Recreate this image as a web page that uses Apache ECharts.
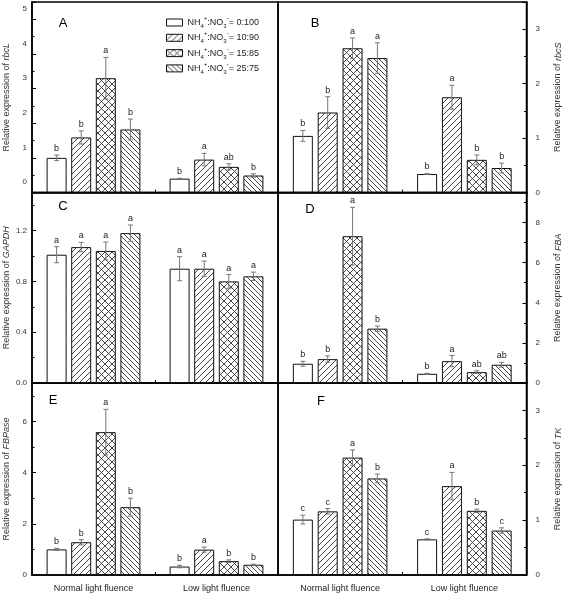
<!DOCTYPE html>
<html><head><meta charset="utf-8">
<script src="https://cdn.jsdelivr.net/npm/echarts@6/dist/echarts.min.js"></script>
<style>html,body{margin:0;padding:0;background:#fff}#c{width:567px;height:595px}</style>
</head><body><div id="c"></div>
<script>
// ---------- DATA ----------
const treatments = ['0:100', '10:90', '15:85', '25:75'];
const groups = ['Normal light fluence', 'Low light fluence'];
const slots = ['', 'N1', 'N2', 'N3', 'N4', '', 'L1', 'L2', 'L3', 'L4', ''];
// order: Normal 0:100,10:90,15:85,25:75 | Low 0:100,10:90,15:85,25:75
const rbcL = [1.00, 1.59, 3.30, 1.82, 0.40, 0.95, 0.74, 0.49];
const rbcLErr = [0.08, 0.19, 0.60, 0.30, 0.01, 0.18, 0.09, 0.05];
const rbcLSig = ['b', 'b', 'a', 'b', 'b', 'a', 'ab', 'b'];
const rbcS = [1.04, 1.47, 2.65, 2.47, 0.34, 1.75, 0.60, 0.45];
const rbcSErr = [0.10, 0.29, 0.19, 0.28, 0.01, 0.22, 0.09, 0.09];
const rbcSSig = ['b', 'b', 'a', 'a', 'b', 'a', 'b', 'b'];
const GAPDH = [1.01, 1.07, 1.04, 1.18, 0.90, 0.90, 0.80, 0.84];
const GAPDHErr = [0.063, 0.037, 0.07, 0.064, 0.095, 0.06, 0.054, 0.033];
const GAPDHSig = ['a', 'a', 'a', 'a', 'a', 'a', 'a', 'a'];
const FBA = [0.96, 1.19, 7.32, 2.71, 0.46, 1.09, 0.54, 0.91];
const FBAErr = [0.12, 0.16, 1.44, 0.13, 0.02, 0.28, 0.07, 0.12];
const FBASig = ['b', 'b', 'a', 'b', 'b', 'a', 'ab', 'ab'];
const FBPase = [1.00, 1.28, 5.58, 2.65, 0.33, 0.99, 0.54, 0.40];
const FBPaseErr = [0.04, 0.10, 0.89, 0.35, 0.05, 0.10, 0.05, 0.02];
const FBPaseSig = ['b', 'b', 'a', 'b', 'b', 'a', 'b', 'b'];
const TK = [1.01, 1.16, 2.14, 1.76, 0.65, 1.62, 1.17, 0.81];
const TKErr = [0.08, 0.05, 0.14, 0.08, 0.01, 0.25, 0.03, 0.05];
const TKSig = ['c', 'c', 'a', 'b', 'c', 'a', 'b', 'c'];

// ---------- STYLE / LAYOUT ----------
const FONT = 'Liberation Sans, Arial, sans-serif';
const panels = [
  { letter: 'A', gene: 'rbcL', v: rbcL, e: rbcLErr, s: rbcLSig, max: 5.5, interval: 1, dec: 0, left: 32, top: 2, width: 246, height: 190.5, side: 'left', lx: 63, ly: 23, shiftLabels: true },
  { letter: 'B', gene: 'rbcS', v: rbcS, e: rbcSErr, s: rbcSSig, max: 3.5, interval: 1, dec: 0, left: 278, top: 2, width: 248.5, height: 190.5, side: 'right', lx: 315, ly: 23 },
  { letter: 'C', gene: 'GAPDH', v: GAPDH, e: GAPDHErr, s: GAPDHSig, max: 1.5, interval: 0.4, dec: 1, left: 32, top: 192.5, width: 246, height: 190.5, side: 'left', lx: 63, ly: 206 },
  { letter: 'D', gene: 'FBA', v: FBA, e: FBAErr, s: FBASig, max: 9.5, interval: 2, dec: 0, left: 278, top: 192.5, width: 248.5, height: 190.5, side: 'right', lx: 310, ly: 209.5 },
  { letter: 'E', gene: 'FBPase', v: FBPase, e: FBPaseErr, s: FBPaseSig, max: 7.5, interval: 2, dec: 0, left: 32, top: 383, width: 246, height: 192, side: 'left', lx: 53, ly: 400 },
  { letter: 'F', gene: 'TK', v: TK, e: TKErr, s: TKSig, max: 3.5, interval: 1, dec: 0, left: 278, top: 383, width: 248.5, height: 192, side: 'right', lx: 321, ly: 401.5 }
];

function hatch(type) {
  const s = type === 'x' ? 7 : (type === '/' ? 6 : 5);
  const c = document.createElement('canvas');
  c.width = s; c.height = s;
  const g = c.getContext('2d');
  g.fillStyle = '#fff'; g.fillRect(0, 0, s, s);
  g.strokeStyle = '#333'; g.lineWidth = 0.9;
  function fwd() {
    g.beginPath();
    g.moveTo(-1, s + 1); g.lineTo(s + 1, -1);
    g.moveTo(-1, 1); g.lineTo(1, -1);
    g.moveTo(s - 1, s + 1); g.lineTo(s + 1, s - 1);
    g.stroke();
  }
  function back() {
    g.beginPath();
    g.moveTo(-1, -1); g.lineTo(s + 1, s + 1);
    g.moveTo(s - 1, -1); g.lineTo(s + 1, 1);
    g.moveTo(-1, s - 1); g.lineTo(1, s + 1);
    g.stroke();
  }
  if (type === '/' || type === 'x') fwd();
  if (type === '\\' || type === 'x') back();
  return c;
}
const fills = [
  '#ffffff',
  { image: hatch('/'), repeat: 'repeat' },
  { image: hatch('x'), repeat: 'repeat' },
  { image: hatch('\\'), repeat: 'repeat' }
];

const grid = [], xAxis = [], yAxis = [], series = [], graphic = [];
panels.forEach((p, pi) => {
  grid.push({ left: p.left, top: p.top, width: p.width, height: p.height, show: true,
    borderColor: '#000', borderWidth: 1.5, backgroundColor: 'transparent', containLabel: false, outerBoundsMode: 'none' });
  xAxis.push({ type: 'category', gridIndex: pi, data: slots, boundaryGap: false,
    axisLine: { show: true, lineStyle: { color: '#000', width: 1.5 } },
    axisTick: { show: true, inside: true, length: 3, interval: 0, lineStyle: { color: '#000', width: 1 } },
    axisLabel: { show: false }, splitLine: { show: false } });
  const lbl = { show: true, fontSize: 8, color: '#333', fontFamily: FONT,
    margin: p.side === 'left' ? 5 : 9, showMaxLabel: false,
    formatter: v => Number(v).toFixed(p.dec) };
  if (p.shiftLabels) {
    lbl.formatter = v => '{u|' + Number(v).toFixed(p.dec) + '}';
    lbl.rich = { u: { fontSize: 8, color: '#333', fontFamily: FONT, padding: [0, 0, 21, 0] } };
  }
  yAxis.push({ type: 'value', gridIndex: pi, position: p.side, min: 0, max: p.max, interval: p.interval,
    axisLine: { show: true, lineStyle: { color: '#000', width: 1.5 } },
    axisTick: { show: true, inside: true, length: 4, lineStyle: { color: '#000', width: 1 } },
    minorTick: { show: true, splitNumber: 2, length: 2.5, lineStyle: { color: '#000', width: 1 } },
    splitLine: { show: false }, minorSplitLine: { show: false },
    axisLabel: lbl,
    name: '{n|Relative expression of }{i|' + p.gene + '}',
    nameLocation: 'middle', nameRotate: 90, nameGap: p.side === 'left' ? 21 : 27,
    nameTextStyle: { fontSize: 9, color: '#333', fontFamily: FONT,
      rich: { n: { fontSize: 9, color: '#333', fontFamily: FONT }, i: { fontSize: 9, color: '#333', fontStyle: 'italic', fontFamily: FONT } } } });
  treatments.forEach((t, ti) => {
    const d = slots.map(() => null);
    d[ti + 1] = p.v[ti];
    d[ti + 6] = p.v[ti + 4];
    series.push({ type: 'bar', name: t, xAxisIndex: pi, yAxisIndex: pi, stack: 'p' + pi,
      barWidth: 20, data: d, silent: true,
      itemStyle: { color: fills[ti], borderColor: '#111', borderWidth: 1 } });
  });
  const ed = p.v.map((val, i) => [i < 4 ? i + 1 : i + 2, val, p.e[i]]);
  series.push({ type: 'custom', xAxisIndex: pi, yAxisIndex: pi, data: ed, z: 5, silent: true,
    renderItem: (params, api) => {
      const x = api.value(0), val = api.value(1), err = api.value(2);
      const t = api.coord([x, val + err]);
      const b = api.coord([x, Math.max(0, val - err)]);
      const ls = { stroke: '#777', lineWidth: 1 };
      return { type: 'group', children: [
        { type: 'line', shape: { x1: t[0], y1: t[1], x2: b[0], y2: b[1] }, style: ls },
        { type: 'line', shape: { x1: t[0] - 2.5, y1: t[1], x2: t[0] + 2.5, y2: t[1] }, style: ls },
        { type: 'line', shape: { x1: b[0] - 2.5, y1: b[1], x2: b[0] + 2.5, y2: b[1] }, style: ls },
        { type: 'text', x: t[0], y: t[1] - 2, style: { text: p.s[params.dataIndex], fontSize: 9, fill: '#222',
          fontFamily: FONT, align: 'center', verticalAlign: 'bottom' } }
      ] };
    } });
  graphic.push({ type: 'text', x: p.lx, y: p.ly, z: 10, style: { text: p.letter, fontSize: 13, fill: '#000', fontFamily: FONT,
    align: 'center', verticalAlign: 'middle' } });
});
// bottom group labels for E and F
[4, 5].forEach(gi => {
  xAxis.push({ type: 'category', gridIndex: gi, data: groups, boundaryGap: true, position: 'bottom',
    axisLine: { show: false }, axisTick: { show: false }, splitLine: { show: false },
    axisLabel: { show: true, fontSize: 9, color: '#222', fontFamily: FONT, margin: 9, interval: 0 } });
});

const legendNames = {};
treatments.forEach(t => legendNames[t] = t);
const option = {
  animation: false,
  backgroundColor: '#fff',
  grid, xAxis, yAxis, series, graphic,
  legend: {
    show: true, orient: 'vertical', left: 166, top: 15.5, padding: 0, itemWidth: 16, itemHeight: 7, itemGap: 1.3,
    icon: 'rect', data: treatments, selectedMode: false,
    formatter: name => '{t|NH}{s|4}{p|+}{t|:NO}{s|3}{p|-}{t|= ' + legendNames[name] + '}',
    textStyle: { fontSize: 9, color: '#222', fontFamily: FONT,
      rich: {
        t: { fontSize: 9, lineHeight: 14, color: '#222', fontFamily: FONT },
        s: { fontSize: 6, lineHeight: 7, verticalAlign: 'bottom', color: '#222', fontFamily: FONT },
        p: { fontSize: 6, lineHeight: 7, verticalAlign: 'top', color: '#222', fontFamily: FONT }
      } },
    itemStyle: { borderColor: '#111', borderWidth: 1 }
  }
};
const chart = echarts.init(document.getElementById('c'), null, { renderer: 'canvas' });
chart.setOption(option);
</script>
</body></html>
